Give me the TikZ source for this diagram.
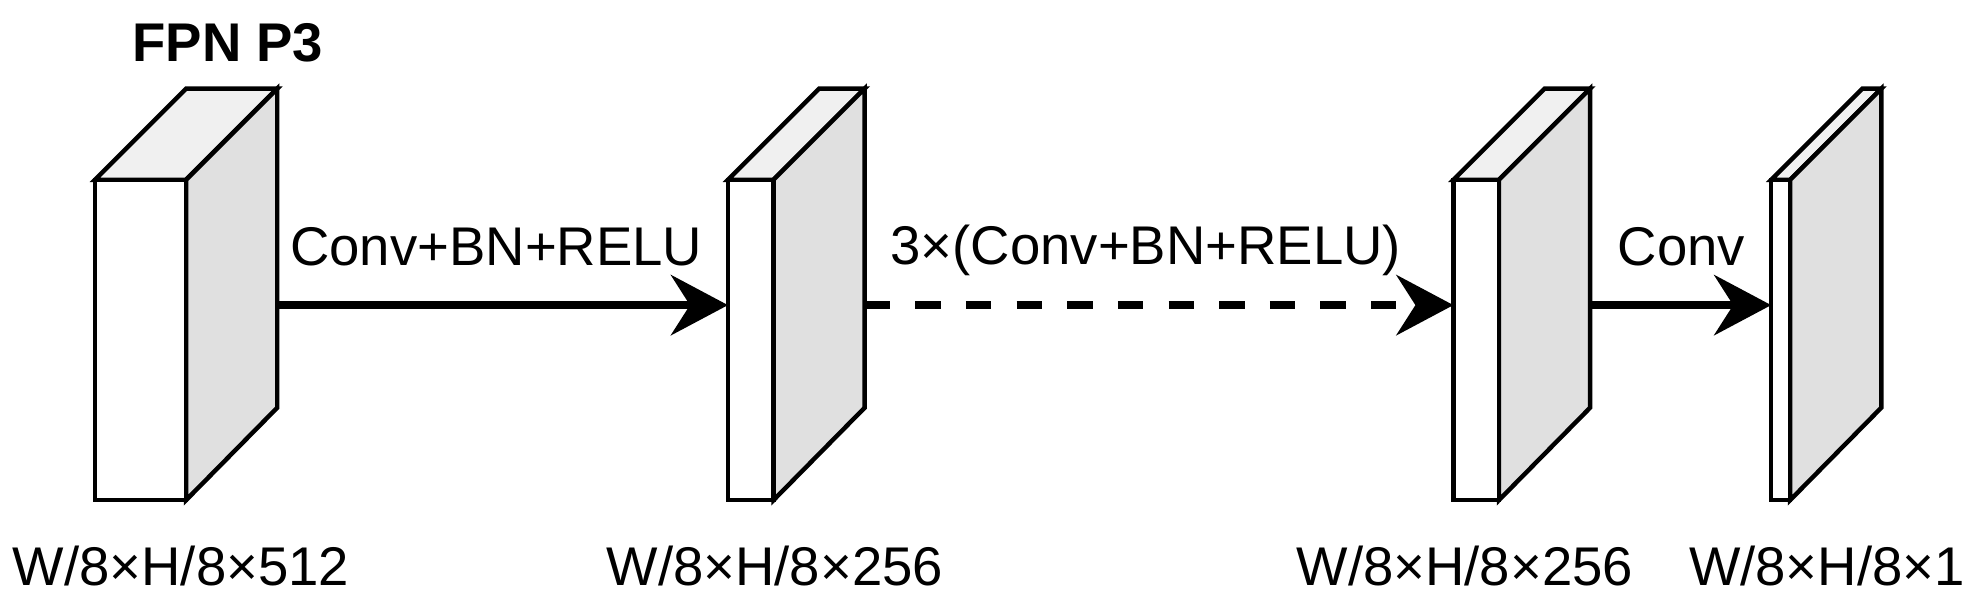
\documentclass[tikz,border=0pt]{standalone}
\usepackage{fontspec}
\setmainfont{Liberation Sans}
\usetikzlibrary{arrows.meta}
\definecolor{topg}{HTML}{F0F0F0}
\definecolor{sideg}{HTML}{E0E0E0}
\tikzset{
  blk/.style={draw=black,line width=2pt,line join=miter},
  lbl/.style={font=\fontsize{24.5}{28}\selectfont,inner sep=0pt},
  arr/.style={line width=3.6pt,-{Stealth[length=0.9cm,width=0.95cm,inset=0.3cm]}}
}
\newcommand{\cube}[4]{% name, x front left, x front right, unused
  \filldraw[blk,fill=topg] (#2,-2.84) -- (#3,-2.84) -- (#3+1.44,-1.4) -- (#2+1.44,-1.4) -- cycle;
  \filldraw[blk,fill=sideg] (#3,-2.84) -- (#3+1.44,-1.4) -- (#3+1.44,-6.44) -- (#3,-7.9) -- cycle;
  \filldraw[blk,fill=white] (#2,-2.84) rectangle (#3,-7.9);
  \coordinate (#1in) at (#2,-4.82);
  \coordinate (#1out) at (#3+1.44,-4.82);
}
\begin{document}
\begin{tikzpicture}[x=1cm,y=1cm]
\useasboundingbox (0,0) rectangle (31.2,-9.6);
\cube{a}{1.5}{2.94}{}
\cube{b}{11.5}{12.22}{}
\cube{c}{22.96}{23.68}{}
\cube{d}{27.98}{28.28}{}
\draw[arr] (aout) -- (bin);
\draw[arr,dash pattern=on 0.4cm off 0.4cm] (bout) -- (cin);
\draw[arr] (cout) -- (din);
\node[lbl] (t1) at (7.84,-3.9) {Conv+BN+RELU};
\node[lbl] (t2) at (18.1,-3.95) {3×(Conv+BN+RELU)};
\node[lbl] (t3) at (26.56,-3.9) {Conv};
\node[lbl,font=\fontsize{24.5}{28}\selectfont\bfseries] (fp) at (3.6,-0.68) {FPN P3};
\node[lbl] (w1) at (2.86,-8.94) {W/8×H/8×512};
\node[lbl] (w2) at (12.24,-8.94) {W/8×H/8×256};
\node[lbl] (w3) at (23.14,-8.94) {W/8×H/8×256};
\node[lbl] (w4) at (28.86,-8.94) {W/8×H/8×1};
\end{tikzpicture}
\end{document}
